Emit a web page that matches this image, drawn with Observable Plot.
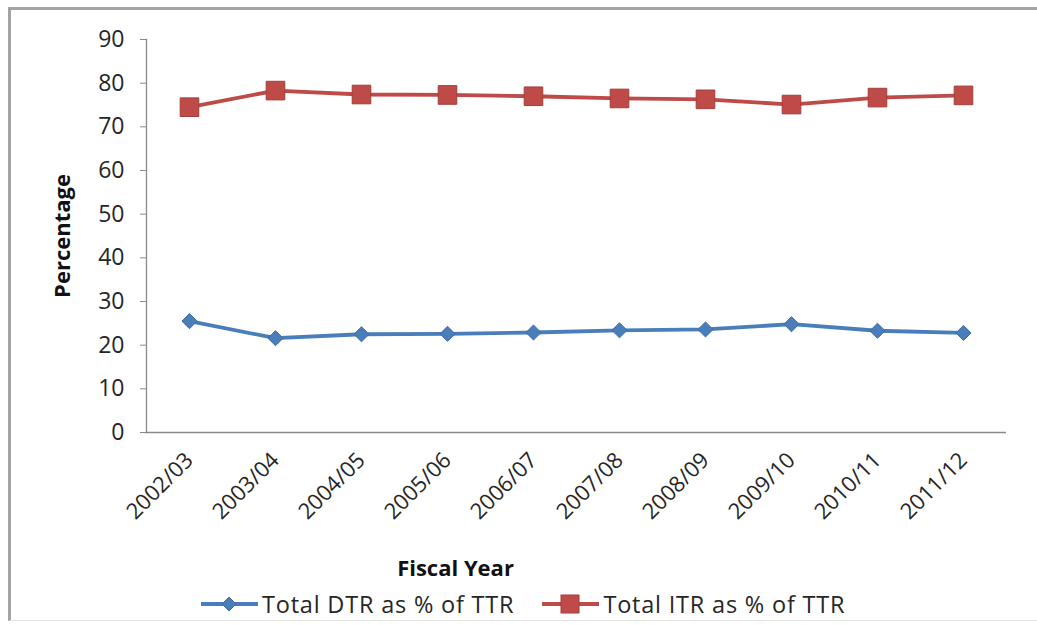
<!DOCTYPE html>
<html>
<head>
<meta charset="utf-8">
<script src="https://cdn.jsdelivr.net/npm/d3@7"></script>
<script src="https://cdn.jsdelivr.net/npm/@observablehq/plot@0.6"></script>
<style>
  html, body { margin: 0; padding: 0; background: #fff; overflow: hidden; }
  #page { position: relative; width: 1037px; height: 625px; overflow: hidden; font-family: "Open Sans", Lato, sans-serif; }
  #border { position: absolute; left: 8px; top: 7px; width: 1100px; height: 614px; border-left: 3px solid #a3a3a3; border-top: 3px solid #a3a3a3; border-bottom: 1px solid #e4e4e4; box-sizing: border-box; }
  #chart { position: absolute; left: 0; top: 0; }
  #legend { position: absolute; top: 588px; left: 200px; display: flex; align-items: center; font-size: 23.5px; letter-spacing: 0.8px; color: #262626; white-space: nowrap; }
  #legend .item { display: flex; align-items: center; }
  #legend svg { display: block; }
</style>
</head>
<body>
<div id="page">
  <div id="border"></div>
  <div id="chart"></div>
  <div id="legend"></div>
</div>
<script>
const years = ["2002/03","2003/04","2004/05","2005/06","2006/07","2007/08","2008/09","2009/10","2010/11","2011/12"];
const dtrValues = [25.5, 21.6, 22.5, 22.6, 22.9, 23.4, 23.6, 24.8, 23.3, 22.8];
const itrValues = [74.5, 78.3, 77.4, 77.3, 77.0, 76.5, 76.3, 75.1, 76.7, 77.2];
const seriesNames = ["Total DTR as % of TTR", "Total ITR as % of TTR"];
const yTicks = [0, 10, 20, 30, 40, 50, 60, 70, 80, 90];

const blue = "#4a7ebb", blueDark = "#3d6ca3";
const red = "#be4b48", redDark = "#a33e3b";

const dtr = years.map((y, i) => ({year: y, value: dtrValues[i]}));
const itr = years.map((y, i) => ({year: y, value: itrValues[i]}));

const chart = Plot.plot({
  width: 1037,
  height: 580,
  marginLeft: 146,
  marginRight: 31,
  marginTop: 39,
  marginBottom: 148,
  style: {fontFamily: "'Open Sans', Lato, sans-serif", background: "transparent", color: "#262626"},
  x: {type: "point", domain: years, padding: 0.5},
  y: {domain: [0, 90]},
  marks: [
    Plot.ruleY([0], {stroke: "#8a8a8a", strokeWidth: 1.3}),
    Plot.frame({anchor: "left", stroke: "#8a8a8a", strokeWidth: 1.3}),
    Plot.axisY({ticks: yTicks, tickSize: 6, tickPadding: 16, fontSize: 23, label: null, stroke: "#8a8a8a"}),
    Plot.axisX({tickSize: 0, tickPadding: 24, tickRotate: -45, fontSize: 22, label: null}),
    Plot.line(dtr, {x: "year", y: "value", stroke: blue, strokeWidth: 3.8}),
    Plot.line(itr, {x: "year", y: "value", stroke: red, strokeWidth: 3.8}),
    Plot.dot(dtr, {x: "year", y: "value", symbol: "diamond2", r: 6.8, fill: blue, stroke: blueDark, strokeWidth: 1}),
    Plot.dot(itr, {x: "year", y: "value", symbol: "square", r: 10.5, fill: red, stroke: redDark, strokeWidth: 1}),
    Plot.text(["Percentage"], {frameAnchor: "left", textAnchor: "middle", rotate: -90, dx: -84, fontSize: 22, fontWeight: "bold", fill: "#111"}),
    Plot.text(["Fiscal Year"], {frameAnchor: "bottom", textAnchor: "middle", dx: -121, dy: 143, fontSize: 22, fontWeight: "bold", fill: "#111"})
  ]
});
document.getElementById("chart").appendChild(chart);

// legend
const legend = document.getElementById("legend");
const swatches = [
  {color: blue, dark: blueDark, shape: "diamond"},
  {color: red, dark: redDark, shape: "square"}
];
seriesNames.forEach((name, i) => {
  const item = document.createElement("div");
  item.className = "item";
  if (i > 0) item.style.marginLeft = "27px";
  const s = swatches[i];
  const marker = s.shape === "diamond"
    ? `<path d="M29,5 L36,12 L29,19 L22,12 Z" fill="${s.color}" stroke="${s.dark}"/>`
    : `<rect x="20" y="3" width="18" height="18" fill="${s.color}" stroke="${s.dark}"/>`;
  item.innerHTML = `<svg width="60" height="24"><line x1="1" x2="58" y1="12" y2="12" stroke="${s.color}" stroke-width="4"/>${marker}</svg><span style="margin-left:2px">${name}</span>`;
  legend.appendChild(item);
});
</script>
</body>
</html>
